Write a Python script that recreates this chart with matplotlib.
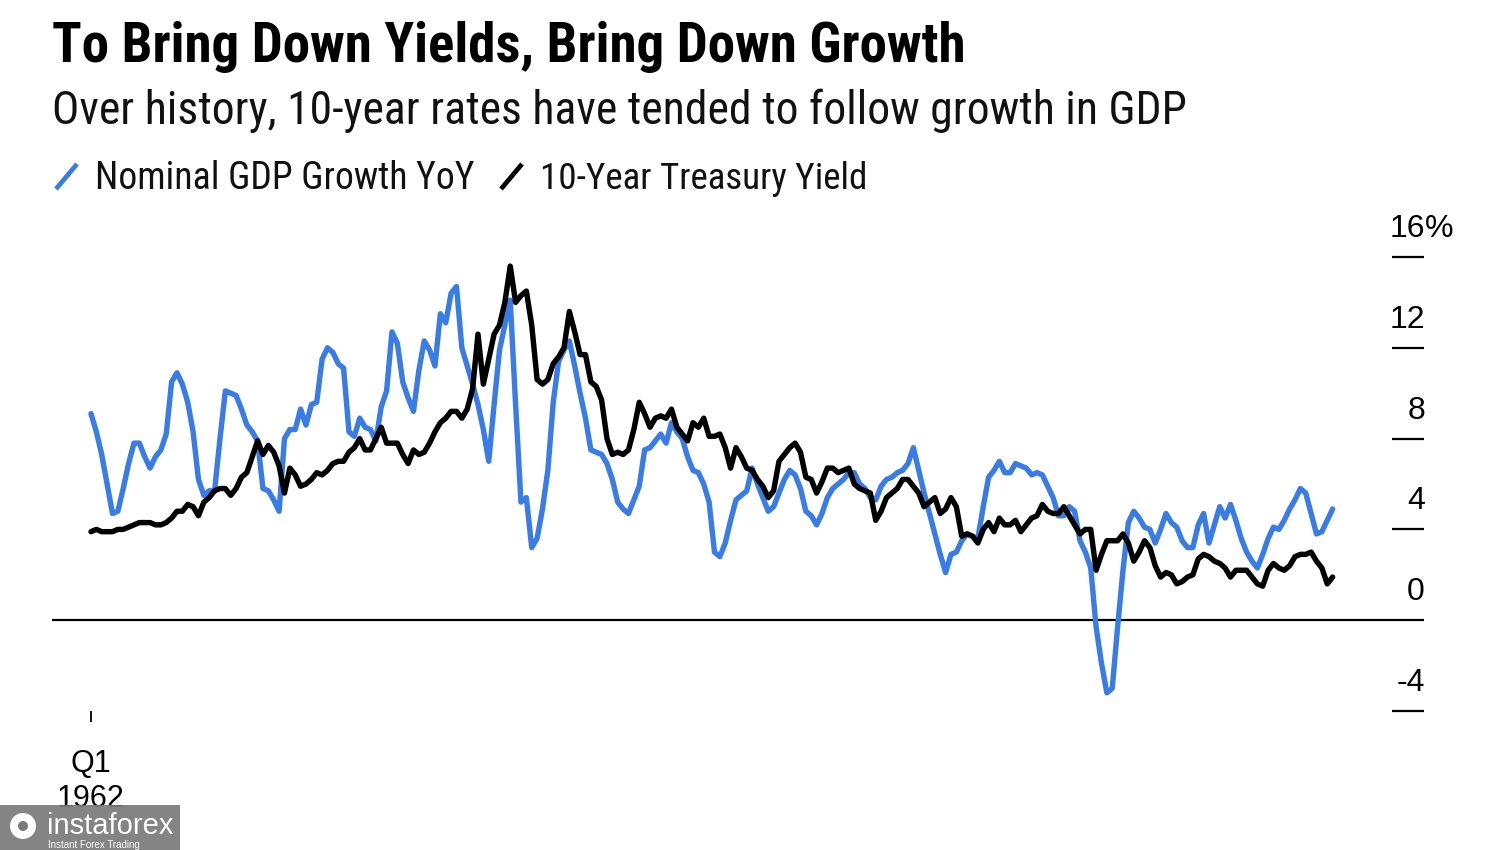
import matplotlib
matplotlib.use("Agg")
import matplotlib.pyplot as plt
import matplotlib.transforms as mtransforms
from matplotlib import font_manager
from matplotlib.font_manager import FontProperties
from matplotlib.lines import Line2D
from matplotlib.patches import Rectangle, Circle
import numpy as np
import pandas as pd

# ---------------- data (quarterly, Q1 1962 onwards) ----------------
first_quarter = "1962Q1"

gdp_growth = [
    9.1, 8.3, 7.3, 6.0,   4.7, 4.8, 5.8, 6.9,   7.8, 7.8, 7.2, 6.7,   7.2, 7.5, 8.2, 10.5,
    10.9, 10.4, 9.6, 8.3,  6.2, 5.5, 5.7, 5.7,   8.0, 10.1, 10.0, 9.9, 9.3, 8.6, 8.3, 7.9,
    5.8, 5.7, 5.3, 4.8,   8.0, 8.4, 8.4, 9.3,   8.6, 9.5, 9.6, 11.5,  12.0, 11.8, 11.3, 11.1,
    8.3, 8.1, 8.9, 8.5,   8.4, 7.9, 9.4, 10.1,  12.7, 12.2, 10.5, 9.8, 9.2, 11.0, 12.3, 11.9,
    11.2, 13.5, 13.1, 14.4, 14.7, 12.0, 11.2, 10.4, 9.5, 8.4, 7.0, 9.5, 11.9, 13.0, 14.1, 9.5,
    5.2, 5.4, 3.2, 3.6,   4.9, 6.6, 9.6, 11.4,  11.9, 12.3, 11.2, 10.0, 8.9, 7.5, 7.4, 7.3,
    6.9, 6.2, 5.2, 4.9,   4.7, 5.3, 5.9, 7.5,   7.6, 7.9, 8.2, 7.8,   8.7, 8.3, 8.0, 7.2,
    6.6, 6.5, 6.0, 5.2,   3.0, 2.8, 3.4, 4.4,   5.3, 5.5, 5.7, 6.7,   6.0, 5.4, 4.8, 5.0,
    5.6, 6.2, 6.6, 6.4,   5.8, 4.8, 4.6, 4.2,   4.7, 5.4, 5.8, 6.0,   6.2, 6.5, 6.5, 6.0,
    5.8, 5.4, 5.3, 5.9,   6.2, 6.3, 6.5, 6.6,   6.9, 7.6, 6.6, 5.6,   4.7, 3.8, 2.9, 2.1,
    2.9, 3.0, 3.5, 3.8,   3.7, 3.6, 5.0, 6.3,   6.6, 7.0, 6.5, 6.5,   6.9, 6.8, 6.7, 6.4,
    6.5, 6.4, 5.9, 5.4,   4.6, 4.6, 5.0, 4.8,   3.5, 3.0, 2.3, -0.3,  -1.9, -3.2, -3.0, -0.3,
    2.2, 4.3, 4.8, 4.5,   4.1, 4.0, 3.4, 4.0,   4.7, 4.3, 4.1, 3.5,   3.2, 3.2, 4.2, 4.7,
    3.4, 4.2, 5.0, 4.5,   5.1, 4.4, 3.6, 3.0,   2.6, 2.3, 2.9, 3.6,   4.1, 4.0, 4.4, 4.9,
    5.3, 5.8, 5.6, 4.7,   3.8, 3.9, 4.4, 4.9,
]

treasury_yield = [
    3.9, 4.0, 3.9, 3.9,   3.9, 4.0, 4.0, 4.1,   4.2, 4.3, 4.3, 4.3,   4.2, 4.2, 4.3, 4.5,
    4.8, 4.8, 5.1, 5.0,   4.6, 5.2, 5.4, 5.7,   5.8, 5.8, 5.5, 5.8,   6.3, 6.5, 7.2, 7.9,
    7.3, 7.7, 7.4, 6.8,   5.6, 6.7, 6.4, 5.9,   6.0, 6.2, 6.5, 6.4,   6.6, 6.9, 7.0, 7.0,
    7.4, 7.6, 8.0, 7.5,   7.5, 8.0, 8.5, 7.8,   7.8, 7.8, 7.3, 6.9,   7.5, 7.3, 7.4, 7.8,
    8.3, 8.7, 8.9, 9.2,   9.2, 8.9, 9.3, 10.2,  12.6, 10.4, 11.5, 12.6, 13.0, 14.0, 15.6, 14.0,
    14.3, 14.5, 13.0, 10.6, 10.4, 10.6, 11.3, 11.6, 12.0, 13.6, 12.7, 11.7, 11.7, 10.5, 10.3, 9.7,
    8.0, 7.3, 7.4, 7.3,   7.5, 8.4, 9.6, 9.1,   8.5, 8.9, 9.0, 8.9,   9.3, 8.5, 8.2, 7.9,
    8.7, 8.5, 8.9, 8.1,   8.1, 8.2, 7.6, 6.7,   7.6, 7.2, 6.7, 6.6,   6.2, 5.9, 5.4, 5.7,
    7.0, 7.3, 7.6, 7.8,   7.4, 6.3, 6.2, 5.6,   6.1, 6.7, 6.7, 6.5,   6.6, 6.7, 6.0, 5.8,
    5.7, 5.6, 4.4, 4.8,   5.4, 5.6, 5.8, 6.2,   6.2, 5.9, 5.6, 5.0,   5.2, 5.4, 4.7, 4.9,
    5.4, 5.0, 3.7, 3.8,   3.7, 3.4, 4.0, 4.3,   3.9, 4.5, 4.2, 4.2,   4.4, 3.9, 4.2, 4.5,
    4.6, 5.1, 4.8, 4.7,   4.7, 5.0, 4.6, 4.2,   3.8, 4.0, 4.0, 2.2,   2.9, 3.5, 3.5, 3.5,
    3.8, 3.4, 2.6, 3.0,   3.5, 3.2, 2.4, 1.9,   2.1, 2.0, 1.6, 1.7,   1.9, 2.0, 2.7, 2.9,
    2.8, 2.6, 2.5, 2.3,   1.9, 2.2, 2.2, 2.2,   1.9, 1.6, 1.5, 2.2,   2.5, 2.3, 2.2, 2.4,
    2.8, 2.9, 2.9, 3.0,   2.6, 2.3, 1.6, 1.9,
]

y_ticks = [-4, 0, 4, 8, 12, 16]
y_tick_labels = ["-4", "0", "4", "8", "12", "16"]
x_tick_label = "Q1\n1962"

title = "To Bring Down Yields, Bring Down Growth"
subtitle = "Over history, 10-year rates have tended to follow growth in GDP"
series_names = ["Nominal GDP Growth YoY", "10-Year Treasury Yield"]

BLUE = "#3a7ce6"
BLACK = "#000000"

# ---------------- fonts: prefer a narrow grotesque if one is installed ----------------
plt.rcParams["font.family"] = ["Liberation Sans", "DejaVu Sans"]


def find_narrow(bold):
    order = ["Liberation Sans Narrow", "Arial Narrow", "Roboto Condensed", "Noto Sans",
             "Open Sans", "Roboto", "Lato", "Inter"]
    best = None
    for f in font_manager.fontManager.ttflist:
        nm = f.name
        if any(k in nm for k in ("Mono", "CJK", "Serif", "Display", "Math")):
            continue
        narrow = ("Narrow" in nm or "Condensed" in nm or
                  str(f.stretch) in ("condensed", "extra-condensed"))
        if not narrow or f.style != "normal":
            continue
        w = f.weight if isinstance(f.weight, int) else font_manager.weight_dict.get(f.weight, 400)
        if bold and w != 700:
            continue
        if not bold and w != 400:
            continue
        rank = next((i for i, o in enumerate(order) if nm.startswith(o)), len(order))
        if "Semi" in nm or "semi" in str(f.stretch):
            rank += 20
        if best is None or rank < best[0]:
            best = (rank, f.fname)
    return best[1] if best else None


nb = find_narrow(True)
nr = find_narrow(False)
if nb and nr:
    FP_BOLD = FontProperties(fname=nb)
    FP_REG = FontProperties(fname=nr)
else:
    FP_BOLD = FontProperties(family="Liberation Sans", weight="bold")
    FP_REG = FontProperties(family="Liberation Sans")
FP_TICK = FontProperties(family=["Liberation Sans", "DejaVu Sans"])

W, H = 1500, 850
fig = plt.figure(figsize=(W / 100, H / 100), dpi=100)
fig.patch.set_facecolor("white")
renderer = fig.canvas.get_renderer()


def fy(py):
    return 1 - py / H


def fit_text(px, py_base, s, target_w, fp, **kw):
    t = fig.text(px / W, fy(py_base), s, va="baseline", fontproperties=fp.copy(), **kw)
    t.set_fontsize(20)
    w = t.get_window_extent(renderer).width
    t.set_fontsize(20 * target_w / w)
    return t


# ---------------- axes ----------------
ax = fig.add_axes([52 / W, 139 / H, 1372 / W, 454 / H])
ax.set_facecolor("none")
periods = pd.period_range(first_quarter, periods=len(gdp_growth), freq="Q")
x = periods.year + (periods.quarter - 1) / 4.0

ax.plot(x, gdp_growth, color=BLUE, lw=3.9, solid_joinstyle="round",
        solid_capstyle="round", zorder=3)
ax.plot(x, treasury_yield, color=BLACK, lw=3.9, solid_joinstyle="round",
        solid_capstyle="round", zorder=4)

x0 = x[0]
ax.set_xlim(x0 - 7.25 / 4, x0 + 248 / 4)
ax.set_ylim(-4, 16)
for s in ax.spines.values():
    s.set_visible(False)
ax.set_yticks([])
ax.set_xticks([x0])
ax.set_xticklabels([x_tick_label])
ax.tick_params(axis="x", direction="out", length=8, width=1.3, color="black", pad=19)
for lab in ax.get_xticklabels():
    lab.set_fontproperties(FP_TICK.copy())
    lab.set_fontsize(22)
    lab.set_linespacing(1.25)

ax.axhline(0, color="black", lw=1.6, zorder=2)

blend = mtransforms.blended_transform_factory(ax.transAxes, ax.transData)
for v, lab in zip(y_ticks, y_tick_labels):
    if v != 0:
        ax.plot([0.9767, 1.0], [v, v], transform=blend, color="black", lw=1.6,
                clip_on=False, solid_capstyle="butt")
    tr = mtransforms.offset_copy(blend, fig=fig, x=0.01, y=0.20, units="inches")
    t = ax.text(1.0, v, lab, transform=tr, ha="right", va="baseline",
                fontproperties=FP_TICK.copy(), color="black")
    t.set_fontsize(23)
    if v == y_ticks[-1]:
        tr2 = mtransforms.offset_copy(blend, fig=fig, x=0.01, y=0.20, units="inches")
        t2 = ax.text(1.0, v, "%", transform=tr2, ha="left", va="baseline",
                     fontproperties=FP_TICK.copy(), color="black")
        t2.set_fontsize(23)

# ---------------- titles & legend ----------------
fit_text(52, 62, title, 913, FP_BOLD, color="black")
fit_text(52, 124, subtitle, 1130, FP_REG, color="#111111")

fig.add_artist(Line2D([56 / W, 77 / W], [fy(189), fy(164)], color=BLUE, lw=3.4,
                      solid_capstyle="butt"))
fit_text(95, 189, series_names[0], 378, FP_REG, color="#111111")
fig.add_artist(Line2D([501 / W, 522 / W], [fy(189), fy(164)], color=BLACK, lw=3.4,
                      solid_capstyle="butt"))
fit_text(540, 189, series_names[1], 327, FP_REG, color="#111111")

# ---------------- watermark overlay ----------------
fig.add_artist(Rectangle((0, 0), 180 / W, 45 / H, transform=fig.transFigure,
                         facecolor="#7a7a7a", edgecolor="none", alpha=0.92, zorder=10))
fig.add_artist(Circle((23, H - 826), 13, transform=mtransforms.IdentityTransform(),
                      facecolor="white", edgecolor="none", zorder=11))
fig.add_artist(Circle((23, H - 826), 5, transform=mtransforms.IdentityTransform(),
                      facecolor="#7a7a7a", edgecolor="none", zorder=12))
fig.text(47 / W, fy(834), "instaforex", color="white", fontsize=21,
         family=["Liberation Sans", "DejaVu Sans"], va="baseline", zorder=12)
fig.text(48 / W, fy(848), "Instant Forex Trading", color="white", fontsize=7,
         family=["Liberation Sans", "DejaVu Sans"], va="baseline", zorder=12)

fig.savefig("out.png", dpi=100, facecolor="white")
